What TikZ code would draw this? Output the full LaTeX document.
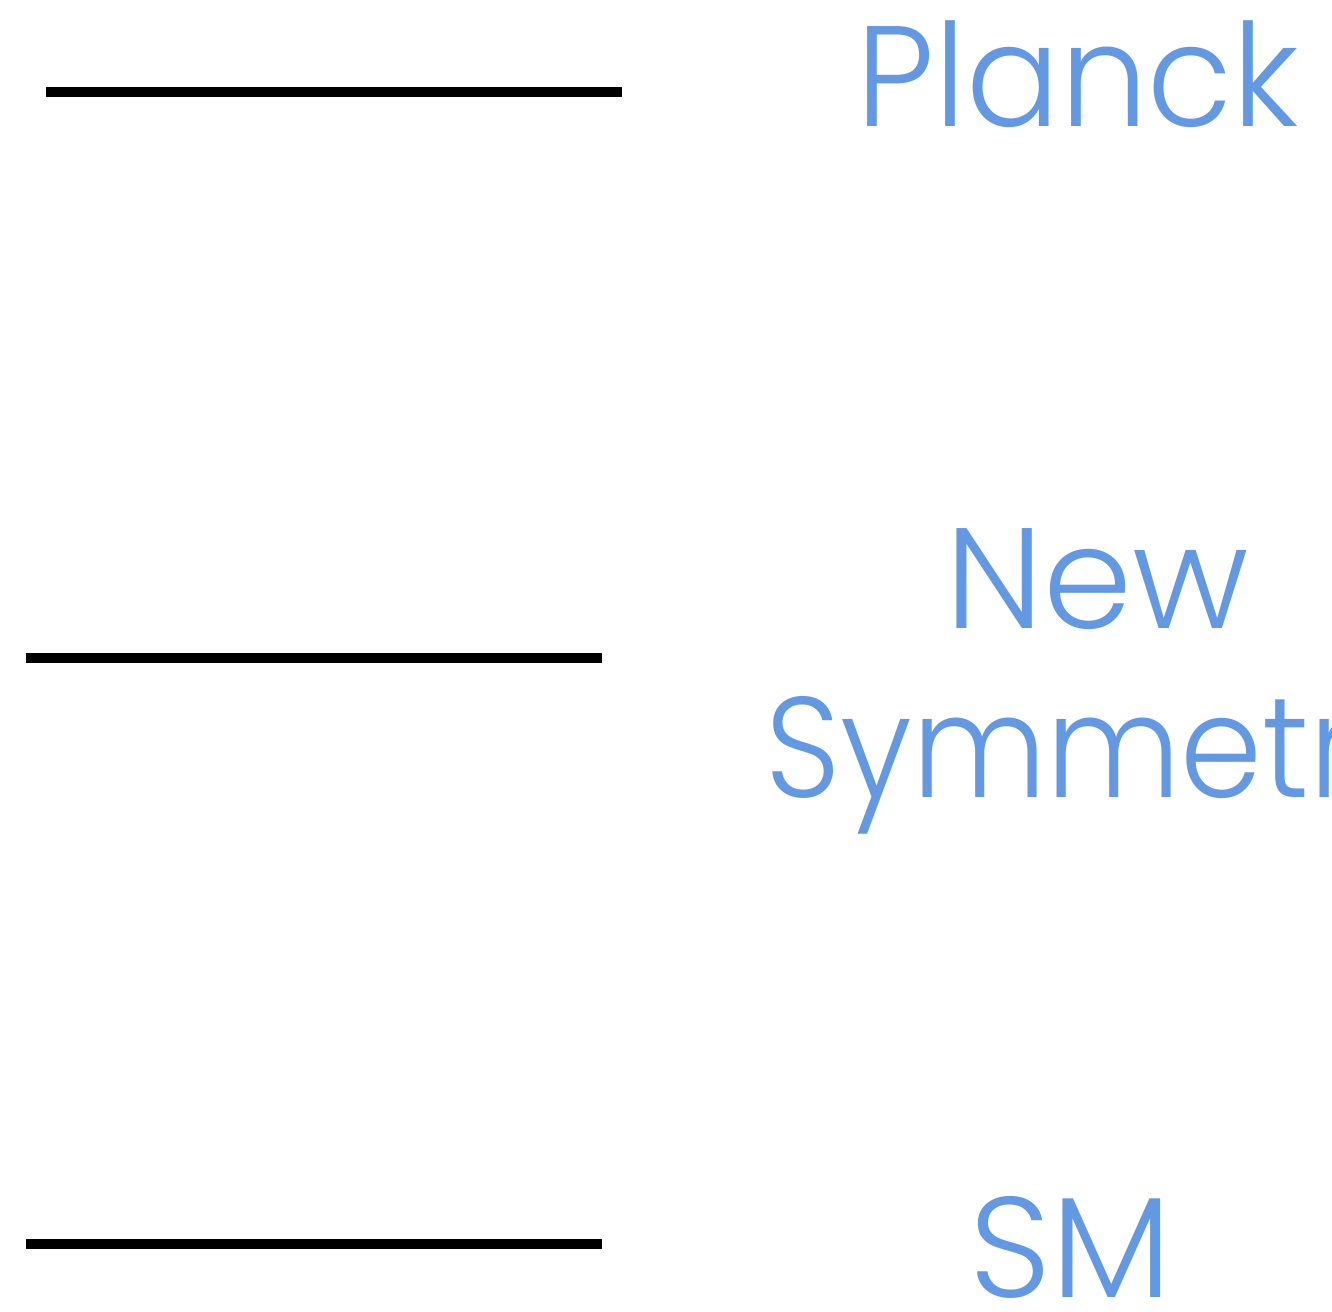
\documentclass[tikz,border=0pt]{standalone}
\usepackage{fontspec}
\setmainfont{Poppins}[UprightFont={* Light}]
\definecolor{labelblue}{HTML}{6399E3}
\begin{document}
\begin{tikzpicture}[x=1pt,y=-1pt,
  level/.style={line width=10pt,black,line cap=butt},
  scalelabel/.style={text=labelblue,inner sep=0pt,font=\fontsize{143}{169}\selectfont,align=center}]
\useasboundingbox (0,0) rectangle (1332,1311);
\clip (0,0) rectangle (1332,1311);
\coordinate (l1a) at (46,92);  \coordinate (l1b) at (622,92);
\coordinate (l2a) at (26,658); \coordinate (l2b) at (602,658);
\coordinate (l3a) at (26,1244);\coordinate (l3b) at (602,1244);
\draw[level] (l1a) -- (l1b);
\draw[level] (l2a) -- (l2b);
\draw[level] (l3a) -- (l3b);
\node[scalelabel,anchor=base] (planck) at (1078,127) {\scalebox{0.97}[1]{Planck}};
\node[scalelabel,anchor=base] (newsym) at (1097,797) {\scalebox{1.0}[1]{New}\\\scalebox{0.92}[1]{Symmetry}};
\node[scalelabel,anchor=base] (sm) at (1071,1297) {SM};
\end{tikzpicture}
\end{document}
